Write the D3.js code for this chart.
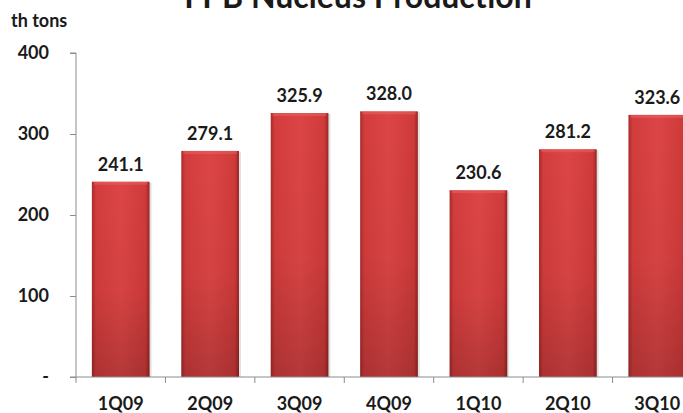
<!DOCTYPE html>
<html>
<head>
<meta charset="utf-8">
<script src="https://cdn.jsdelivr.net/npm/d3@7"></script>
<style>
  html, body { margin: 0; padding: 0; background: #fff; }
  svg text { font-family: Lato, "Open Sans", sans-serif; font-weight: 700; fill: #1a1a1a; }
</style>
</head>
<body>
<script>
const width = 683;
const height = 413;
const margin = { top: 53, right: -19, bottom: 36, left: 76 };

const quarters = ["1Q09", "2Q09", "3Q09", "4Q09", "1Q10", "2Q10", "3Q10"];
const production = [241.1, 279.1, 325.9, 328.0, 230.6, 281.2, 323.6];
const yTicks = [0, 100, 200, 300, 400];
const titleText = "FPB Nucleus Production";
const unitText = "th tons";

const data = quarters.map((q, i) => ({ quarter: q, value: production[i] }));

const svg = d3.select("body")
    .append("svg")
    .attr("width", width)
    .attr("height", height);

const defs = svg.append("defs");

// horizontal shading - darker edges
const gradH = defs.append("linearGradient").attr("id", "barH")
    .attr("x1", "0").attr("x2", "1").attr("y1", "0").attr("y2", "0");
gradH.append("stop").attr("offset", "0%").attr("stop-color", "#a92a2a");
gradH.append("stop").attr("offset", "7%").attr("stop-color", "#d23c3c");
gradH.append("stop").attr("offset", "50%").attr("stop-color", "#dc4545");
gradH.append("stop").attr("offset", "93%").attr("stop-color", "#cf3a3a");
gradH.append("stop").attr("offset", "100%").attr("stop-color", "#9c2424");

// vertical darkening toward the bottom
const gradV = defs.append("linearGradient").attr("id", "barV")
    .attr("x1", "0").attr("x2", "0").attr("y1", "0").attr("y2", "1");
gradV.append("stop").attr("offset", "0%").attr("stop-color", "#000").attr("stop-opacity", 0);
gradV.append("stop").attr("offset", "55%").attr("stop-color", "#000").attr("stop-opacity", 0.03);
gradV.append("stop").attr("offset", "100%").attr("stop-color", "#000").attr("stop-opacity", 0.18);

const x = d3.scaleBand()
    .domain(quarters)
    .range([margin.left, width - margin.right])
    .padding(0);

const y = d3.scaleLinear()
    .domain([0, 400])
    .range([height - margin.bottom, margin.top]);

const barW = x.bandwidth() * 0.645;

// title (cut off at the top, as in the source image)
svg.append("text")
    .attr("x", 358)
    .attr("y", 8)
    .attr("text-anchor", "middle")
    .attr("font-size", 32)
    .text(titleText);

svg.append("text")
    .attr("x", 11)
    .attr("y", 27)
    .attr("font-size", 18)
    .text(unitText);

// bars
const bars = svg.append("g").selectAll("g")
    .data(data)
    .join("g");

bars.append("rect")
    .attr("x", d => x(d.quarter) + (x.bandwidth() - barW) / 2 + 2)
    .attr("y", d => y(d.value) + 1)
    .attr("width", barW)
    .attr("height", d => y(0) - y(d.value) - 1)
    .attr("fill", "#000")
    .attr("opacity", 0.12);

bars.append("rect")
    .attr("x", d => x(d.quarter) + (x.bandwidth() - barW) / 2)
    .attr("y", d => y(d.value))
    .attr("width", barW)
    .attr("height", d => y(0) - y(d.value))
    .attr("fill", "url(#barH)");

bars.append("rect")
    .attr("x", d => x(d.quarter) + (x.bandwidth() - barW) / 2)
    .attr("y", d => y(d.value))
    .attr("width", barW)
    .attr("height", d => y(0) - y(d.value))
    .attr("fill", "url(#barV)");

// top bevel highlight
bars.append("rect")
    .attr("x", d => x(d.quarter) + (x.bandwidth() - barW) / 2 + 2)
    .attr("y", d => y(d.value))
    .attr("width", barW - 4)
    .attr("height", 3)
    .attr("fill", "#ee7070")
    .attr("opacity", 0.4);

bars.append("text")
    .attr("x", d => x(d.quarter) + x.bandwidth() / 2)
    .attr("y", d => y(d.value) - 11)
    .attr("text-anchor", "middle")
    .attr("font-size", 18)
    .text(d => d.value.toFixed(1));

// y axis
const yAxis = svg.append("g")
    .attr("transform", `translate(${margin.left},0)`)
    .call(d3.axisLeft(y)
        .tickValues(yTicks)
        .tickSize(6)
        .tickPadding(21)
        .tickFormat(d => d === 0 ? "-" : d));
yAxis.select(".domain").attr("stroke", "#8c8c8c").attr("d", `M-6,${y(400)}H0V${y(0) + 6}`);
yAxis.selectAll(".tick line").attr("stroke", "#8c8c8c");
yAxis.selectAll(".tick text")
    .attr("font-size", 18)
    .attr("font-family", "Lato, sans-serif")
    .attr("font-weight", 700)
    .attr("fill", "#1a1a1a");

// x axis
const xAxis = svg.append("g")
    .attr("transform", `translate(0,${y(0)})`)
    .call(d3.axisBottom(x).tickSize(0).tickPadding(20));
xAxis.select(".domain").attr("stroke", "#8c8c8c").attr("d", `M${margin.left - 6},0H${width}`);
xAxis.selectAll(".tick text")
    .attr("font-size", 18)
    .attr("font-family", "Lato, sans-serif")
    .attr("font-weight", 700)
    .attr("fill", "#1a1a1a");

// boundary tick marks between categories
svg.append("g").selectAll("line")
    .data(quarters)
    .join("line")
    .attr("x1", d => x(d) + x.bandwidth())
    .attr("x2", d => x(d) + x.bandwidth())
    .attr("y1", y(0))
    .attr("y2", y(0) + 6)
    .attr("stroke", "#8c8c8c");
</script>
</body>
</html>
